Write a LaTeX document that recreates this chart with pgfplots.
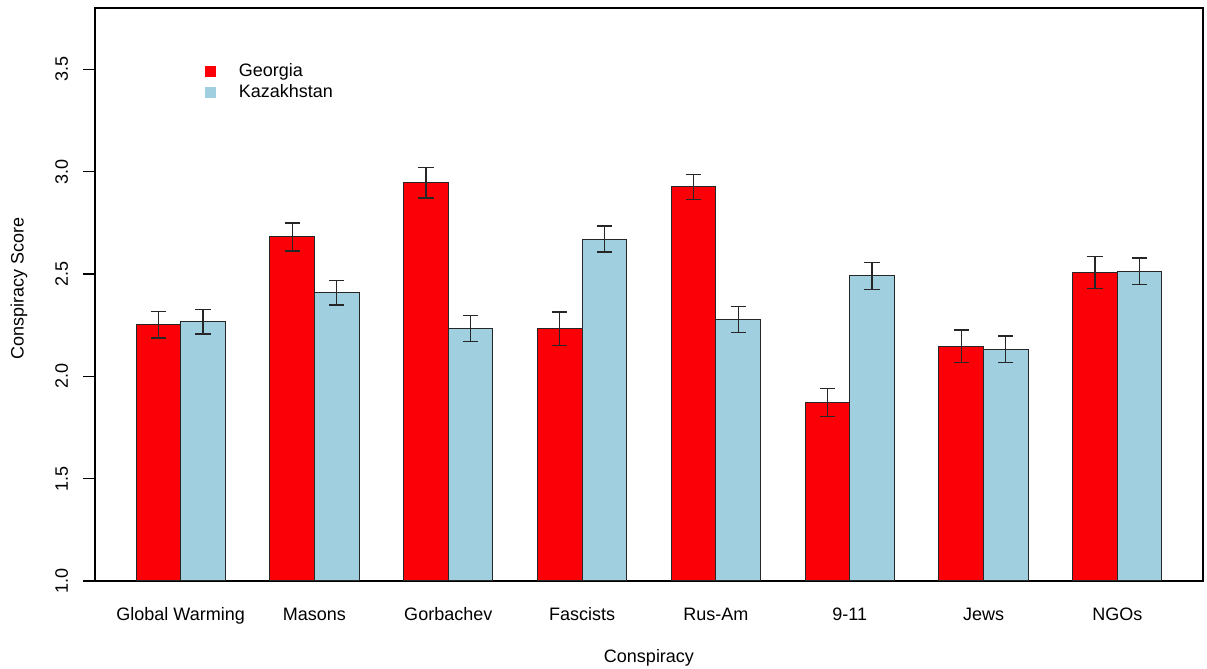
\documentclass[border=0pt]{standalone}
\usepackage{pgfplots}
\pgfplotsset{compat=1.18}
\usepackage{fontspec}
\setmainfont{Liberation Sans}
\definecolor{rred}{RGB}{251,0,7}
\definecolor{rblue}{RGB}{160,207,224}
\begin{document}
\begin{tikzpicture}
\path[use as bounding box] (-47.5pt,-44pt) rectangle (556pt,290.5pt);
\begin{axis}[
  at={(0,0)}, anchor=south west,
  scale only axis, width=554pt, height=286.5pt,
  xmin=0.08, xmax=24.92, ymin=1, ymax=3.8,
  axis line style={black, line width=0.6pt},
  ybar, bar width=1,
  xtick={2,5,8,11,14,17,20,23},
  xticklabels={Global Warming, Masons, Gorbachev, Fascists, Rus-Am, 9-11, Jews, NGOs},
  xtick style={draw=none},
  ytick={1,1.5,2,2.5,3,3.5},
  ytick pos=left,
  tick align=outside,
  major tick length=6pt,
  ytick style={black, line width=0.6pt},
  /pgf/number format/assume math mode=true,
  yticklabel={\pgfmathprintnumber[fixed, fixed zerofill, precision=1]{\tick}},
  tick label style={font=\fontsize{9}{11}\selectfont},
  xticklabel style={anchor=base, yshift=-14pt},
  yticklabel style={rotate=90, anchor=south},
  yticklabel shift=4pt,
  label style={font=\fontsize{9}{11}\selectfont},
  xlabel={Conspiracy},
  ylabel={Conspiracy Score},
  xlabel style={at={(rel axis cs:0.5,0)}, anchor=center, yshift=-38.5pt},
  ylabel style={at={(rel axis cs:-0.0686,0.51)}, anchor=center},
  legend style={at={(rel axis cs:0.0915,0.918)}, anchor=north west, draw=none, fill=none,
    font=\fontsize{9}{11}\selectfont, row sep=-1.5pt,
    legend cell align=left},
  legend image code/.code={\fill[#1, draw=none] (1pt,-2.6pt) rectangle (6.2pt,2.6pt); \path (0pt,0pt) (15.5pt,0pt);},
  error bars/y dir=both,
  error bars/y explicit,
  error bars/error bar style={black!85, line width=0.65pt},
  error bars/error mark options={rotate=90, mark size=3.8pt, black!85, line width=0.65pt},
]
\addplot[fill=rred, draw=black!85, line width=0.5pt, bar shift=0pt]
  table[x=x, y=y, y error=e] {
  x y e
  1.5 2.252 0.065
  4.5 2.681 0.068
  7.5 2.946 0.075
  10.5 2.233 0.081
  13.5 2.926 0.061
  16.5 1.871 0.068
  19.5 2.146 0.080
  22.5 2.507 0.077
};
\addplot[fill=rblue, draw=black!85, line width=0.5pt, bar shift=0pt]
  table[x=x, y=y, y error=e] {
  x y e
  2.5 2.267 0.060
  5.5 2.409 0.060
  8.5 2.234 0.064
  11.5 2.671 0.064
  14.5 2.277 0.063
  17.5 2.491 0.066
  20.5 2.133 0.064
  23.5 2.513 0.065
};
\legend{Georgia, Kazakhstan}
\end{axis}
\end{tikzpicture}
\end{document}
